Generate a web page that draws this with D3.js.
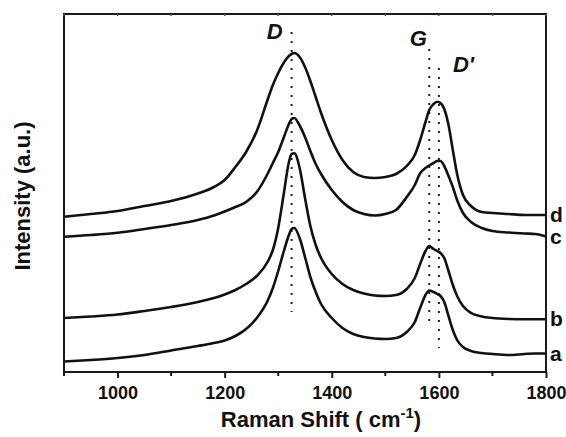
<!DOCTYPE html>
<html>
<head>
<meta charset="utf-8">
<script src="https://cdn.jsdelivr.net/npm/d3@7"></script>
<style>
  html, body { margin: 0; padding: 0; background: #fff; }
  svg { display: block; }
  text { font-family: "Liberation Sans", Arial, sans-serif; font-weight: bold; fill: #111; }
</style>
</head>
<body>
<svg id="chart" width="566" height="437"></svg>
<script>
// ---- data ----
const ramanShift = [900, 950, 1000, 1050, 1100, 1150, 1180, 1200, 1220, 1240, 1260, 1280, 1290, 1300, 1310, 1320, 1325, 1330, 1340, 1350, 1360, 1370, 1380, 1400, 1420, 1440, 1460, 1480, 1500, 1520, 1540, 1555, 1565, 1575, 1582, 1590, 1597, 1603, 1610, 1618, 1626, 1634, 1645, 1660, 1680, 1700, 1730, 1760, 1780, 1800];

const intensityA = [10.5, 12, 14, 17, 21.5, 26, 29, 31.5, 36, 43, 54, 71, 84, 101, 120, 137, 143, 144, 134, 115, 95, 80, 68, 54, 44, 38, 35, 33.5, 33, 34, 40, 50, 64, 77, 81.5, 80, 78, 76, 70, 56, 42, 32, 25, 21, 19, 18, 17, 18, 18.5, 18.5];
const intensityB = [54, 55.5, 57.5, 61, 65, 70, 74, 77.5, 82, 88, 96, 110, 122, 144, 177, 210, 218, 218.7, 204, 174, 146, 127, 114, 98, 88, 82, 78.5, 76.5, 76, 77, 83, 94, 108, 121, 126, 123, 121, 119, 114, 101, 87, 76, 66, 59, 55.5, 54, 53, 52.7, 52.7, 52.7];
const intensityC = [135.3, 137, 139.3, 143, 147, 152, 156.5, 160.5, 165, 170, 180, 198, 209, 220, 234, 248, 253, 254, 246.5, 235, 221, 208, 198, 182, 170, 162, 158, 156.5, 158, 162, 175, 187, 198.7, 204, 206.5, 209, 211, 211, 206, 196, 185, 172, 159, 150, 144, 141, 139.5, 138.5, 138, 135.5];
const intensityD = [155.3, 158, 161, 166, 171, 178.5, 185, 192, 205, 220, 241, 272, 287, 299, 309, 316, 318, 319, 315, 305, 291, 275, 259, 232, 212, 200, 195, 194, 195, 198, 206, 217, 232, 250, 262, 268, 270.3, 269, 263, 247, 222, 198, 177, 166, 160, 159, 158, 157, 157, 157];

const seriesNames = ["a", "b", "c", "d"];
const xTickValues = [1000, 1200, 1400, 1600, 1800];
const xMinorTicks = [900, 1000, 1100, 1200, 1300, 1400, 1500, 1600, 1700, 1800];
const xDomain = [900, 1800];
const yDomain = [0, 358];

const bandNames = ["D", "G", "D'"];
const bandShifts = [1325, 1582, 1600];
const bandTop = [340, 323, 304];
const bandBottom = [60, 44, 24];

// ---- layout ----
const W = 566, H = 437;
const m = { left: 64, right: 20, top: 14, bottom: 65 };
const x0 = m.left, x1 = W - m.right, y0 = m.top, y1 = H - m.bottom;

const svg = d3.select("#chart");
const x = d3.scaleLinear().domain(xDomain).range([x0, x1]);
const y = d3.scaleLinear().domain(yDomain).range([y1, y0]);

const allSeries = [intensityA, intensityB, intensityC, intensityD].map((vals, i) => ({
  name: seriesNames[i],
  points: ramanShift.map((s, j) => [s, vals[j]])
}));

// dotted band markers
bandShifts.forEach((s, i) => {
  svg.append("line")
    .attr("x1", x(s)).attr("x2", x(s))
    .attr("y1", y(bandTop[i])).attr("y2", y(bandBottom[i]))
    .attr("stroke", "#222").attr("stroke-width", 2)
    .attr("stroke-dasharray", "2 7");
});

// curves
const line = d3.line().x(d => x(d[0])).y(d => y(d[1])).curve(d3.curveMonotoneX);
svg.append("g").selectAll("path").data(allSeries).join("path")
  .attr("d", d => line(d.points))
  .attr("fill", "none")
  .attr("stroke", "#111")
  .attr("stroke-width", 2.6)
  .attr("stroke-linejoin", "round");

// frame
svg.append("rect")
  .attr("x", x0).attr("y", y0).attr("width", x1 - x0).attr("height", y1 - y0)
  .attr("fill", "none").attr("stroke", "#1a1a1a").attr("stroke-width", 2);

// bottom axis
const axB = svg.append("g").attr("transform", `translate(0,${y1})`)
  .call(d3.axisBottom(x).tickValues(xTickValues).tickSize(6).tickPadding(8).tickFormat(d3.format("d")));
axB.select(".domain").remove();
axB.selectAll(".tick line").attr("stroke", "#1a1a1a").attr("stroke-width", 2);
axB.selectAll(".tick text")
  .style("font-family", '"Liberation Sans", Arial, sans-serif')
  .style("font-weight", "bold").style("font-size", "18px").attr("fill", "#111");

// minor ticks bottom (outward) and top (inward)
svg.append("g").selectAll("line").data(xMinorTicks.filter(v => !xTickValues.includes(v))).join("line")
  .attr("x1", d => x(d)).attr("x2", d => x(d))
  .attr("y1", y1).attr("y2", y1 + 4)
  .attr("stroke", "#1a1a1a").attr("stroke-width", 2);
svg.append("g").selectAll("line").data(xMinorTicks).join("line")
  .attr("x1", d => x(d)).attr("x2", d => x(d))
  .attr("y1", y0).attr("y2", y0 + 2)
  .attr("stroke", "#555").attr("stroke-width", 1.5);

// axis titles
const title = svg.append("text")
  .attr("x", 321).attr("y", 427)
  .attr("text-anchor", "middle")
  .style("font-size", "22px");
title.append("tspan").text("Raman Shift ( cm");
title.append("tspan").text("-1").attr("dy", -9).style("font-size", "15px");
title.append("tspan").text(")").attr("dy", 9);

svg.append("text")
  .attr("transform", `translate(30,${(y0 + y1) / 2 + 3}) rotate(-90)`)
  .attr("text-anchor", "middle")
  .style("font-size", "22px")
  .text("Intensity (a.u.)");

// series labels at right end
allSeries.forEach(s => {
  const last = s.points[s.points.length - 1];
  svg.append("text")
    .attr("x", x1 + 4).attr("y", y(last[1]) + 7)
    .style("font-size", "21px")
    .text(s.name);
});

// band labels
const bandLabelDx = [-17, -11, 14];
const bandLabelY = [39, 45.5, 71.5];
const bandAnchor = ["middle", "middle", "start"];
bandNames.forEach((n, i) => {
  svg.append("text")
    .attr("x", x(bandShifts[i]) + bandLabelDx[i]).attr("y", bandLabelY[i])
    .attr("text-anchor", bandAnchor[i])
    .style("font-size", "22px").style("font-style", "italic")
    .text(n);
});
</script>
</body>
</html>
